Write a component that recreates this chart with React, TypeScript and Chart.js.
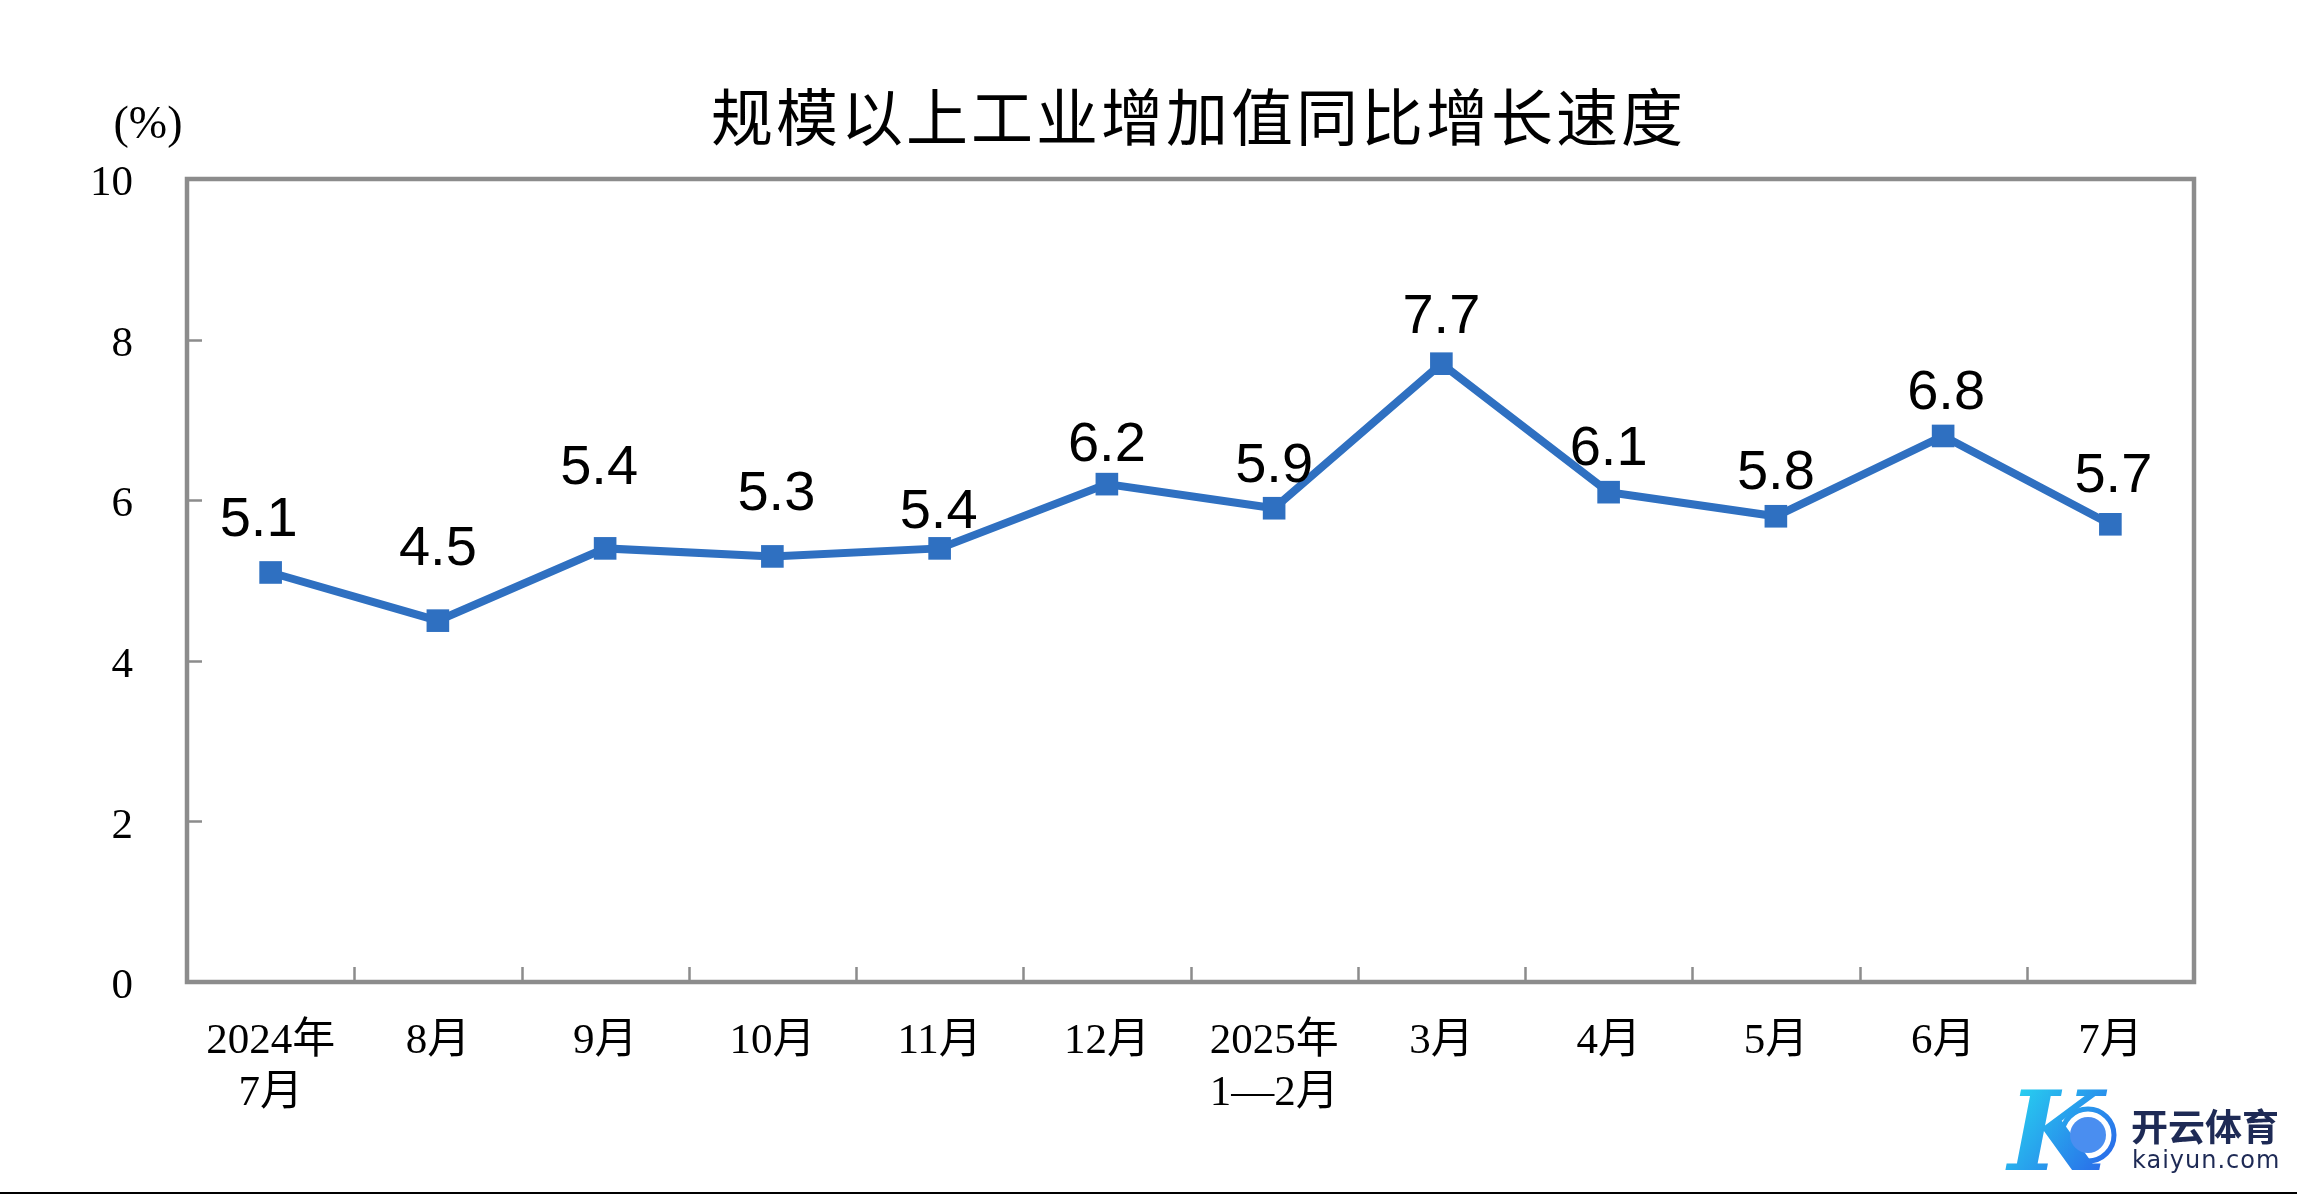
import React, { useEffect, useRef } from 'react';
import { Chart, registerables } from 'chart.js';

Chart.register(...registerables);

// ---- data ----
const categories: (string | string[])[] = [
  ['2024年', '7月'], '8月', '9月', '10月', '11月', '12月',
  ['2025年', '1—2月'], '3月', '4月', '5月', '6月', '7月',
];
const growth = [5.1, 4.5, 5.4, 5.3, 5.4, 6.2, 5.9, 7.7, 6.1, 5.8, 6.8, 5.7];
const yTicks = [0, 2, 4, 6, 8, 10];
const titleText = '规模以上工业增加值同比增长速度';
const unitText = '(%)';
const brandText = '开云体育';
const brandUrl = 'kaiyun.com';

// ---- label styling (offsets above each point, px) ----
const labelLift = [52, 71, 80, 62, 36, 39, 42, 46, 43, 43, 42, 48];
const labelShift = [-12, 0, -6, 4, -1, 0, 0, 0, 0, 0, 3, 3];

const W = 2297;
const H = 1194;
const LINE = '#2f70c1';
const FRAME = '#8c8c8c';
const SERIF = '"Liberation Serif", "Noto Sans CJK SC", serif';

const decorPlugin = {
  id: 'decor',
  afterDraw(chart: any) {
    const { ctx, chartArea: a, scales } = chart;
    const x = scales.x;
    const y = scales.y;
    ctx.save();
    // inner tick marks
    ctx.strokeStyle = FRAME;
    ctx.lineWidth = 2.5;
    ctx.beginPath();
    for (let i = 0; i < growth.length - 1; i++) {
      const px = Math.round((x.getPixelForValue(i) + x.getPixelForValue(i + 1)) / 2) + 0.5;
      ctx.moveTo(px, a.bottom);
      ctx.lineTo(px, a.bottom - 15);
    }
    yTicks.slice(1, -1).forEach((v) => {
      const py = Math.round(y.getPixelForValue(v)) + 0.5;
      ctx.moveTo(a.left, py);
      ctx.lineTo(a.left + 15, py);
    });
    ctx.stroke();
    // frame
    ctx.lineWidth = 4.5;
    ctx.strokeRect(a.left, a.top, a.right - a.left, a.bottom - a.top);

    // y tick labels
    ctx.fillStyle = '#000';
    ctx.font = '43px ' + SERIF;
    ctx.textAlign = 'right';
    ctx.textBaseline = 'middle';
    yTicks.forEach((v) => {
      ctx.fillText(String(v), a.left - 54, y.getPixelForValue(v) + 5);
    });

    // data labels
    ctx.font = '56px "Liberation Sans", Arial, sans-serif';
    ctx.textAlign = 'center';
    ctx.textBaseline = 'middle';
    const meta = chart.getDatasetMeta(0);
    meta.data.forEach((pt: any, i: number) => {
      ctx.fillText(growth[i].toFixed(1), pt.x + labelShift[i], pt.y - labelLift[i]);
    });

    // title
    ctx.font = '62px "Noto Sans CJK SC", sans-serif';
    (ctx as any).letterSpacing = '3px';
    ctx.textAlign = 'center';
    ctx.textBaseline = 'middle';
    ctx.fillText(titleText, (a.left + a.right) / 2 + 8, 117);
    (ctx as any).letterSpacing = '0px';

    // unit
    ctx.font = '46px ' + SERIF;
    ctx.fillText(unitText, 148, 126);

    // bottom rule
    ctx.fillStyle = '#000';
    ctx.fillRect(0, H - 2, W, 2);

    // watermark
    const g = ctx.createLinearGradient(2010, 1090, 2125, 1175);
    g.addColorStop(0, '#27d4f0');
    g.addColorStop(1, '#2a5be8');
    ctx.fillStyle = g;
    ctx.font = 'italic bold 110px "DejaVu Serif", serif';
    ctx.textAlign = 'left';
    ctx.textBaseline = 'alphabetic';
    ctx.fillText('K', 2008, 1170);
    ctx.strokeStyle = g;
    ctx.lineWidth = 5;
    ctx.beginPath();
    ctx.arc(2088, 1135, 26, 0, Math.PI * 2);
    ctx.stroke();
    ctx.fillStyle = '#4a8ef0';
    ctx.beginPath();
    ctx.arc(2088, 1135, 18, 0, Math.PI * 2);
    ctx.fill();
    ctx.fillStyle = '#1e2a55';
    ctx.textBaseline = 'middle';
    ctx.font = 'bold 37px "Noto Sans CJK SC", sans-serif';
    ctx.fillText(brandText, 2131, 1127);
    ctx.font = '24px "DejaVu Sans", sans-serif';
    (ctx as any).letterSpacing = '1px';
    ctx.fillText(brandUrl, 2132, 1162);
    (ctx as any).letterSpacing = '0px';
    ctx.restore();
  },
};

export default function App() {
  const ref = useRef<HTMLCanvasElement>(null);
  useEffect(() => {
    document.body.style.margin = '0';
    document.body.style.overflow = 'hidden';
    const canvas = ref.current!;
    const chart = new Chart(canvas, {
      type: 'line',
      data: {
        labels: categories as any,
        datasets: [
          {
            data: growth,
            borderColor: LINE,
            backgroundColor: LINE,
            borderWidth: 8,
            pointStyle: 'rect',
            pointRadius: 16,
            pointBorderWidth: 0,
            pointBackgroundColor: LINE,
            tension: 0,
            fill: false,
          },
        ],
      },
      options: {
        responsive: false,
        animation: false,
        devicePixelRatio: 1,
        layout: { padding: { top: 179, right: 103, left: 0, bottom: 0 } },
        plugins: {
          legend: { display: false },
          title: { display: false },
          tooltip: { enabled: false },
        },
        scales: {
          x: {
            type: 'category',
            offset: true,
            grid: { display: false, drawTicks: false },
            border: { display: false },
            ticks: {
              color: '#000',
              font: { family: SERIF, size: 43, lineHeight: 1.2 },
              padding: 34,
              maxRotation: 0,
              autoSkip: false,
            },
            afterFit: (s: any) => {
              s.height = 212;
            },
          },
          y: {
            min: 0,
            max: 10,
            grid: { display: false, drawTicks: false },
            border: { display: false },
            afterBuildTicks: (s: any) => {
              s.ticks = yTicks.map((v) => ({ value: v }));
            },
            ticks: { display: false },
            afterFit: (s: any) => {
              s.width = 187;
            },
          },
        },
      },
      plugins: [decorPlugin],
    });
    return () => chart.destroy();
  }, []);
  return (
    <div style={{ width: W, height: H, background: '#fff' }}>
      <canvas ref={ref} width={W} height={H} style={{ width: W, height: H, display: 'block' }} />
    </div>
  );
}
